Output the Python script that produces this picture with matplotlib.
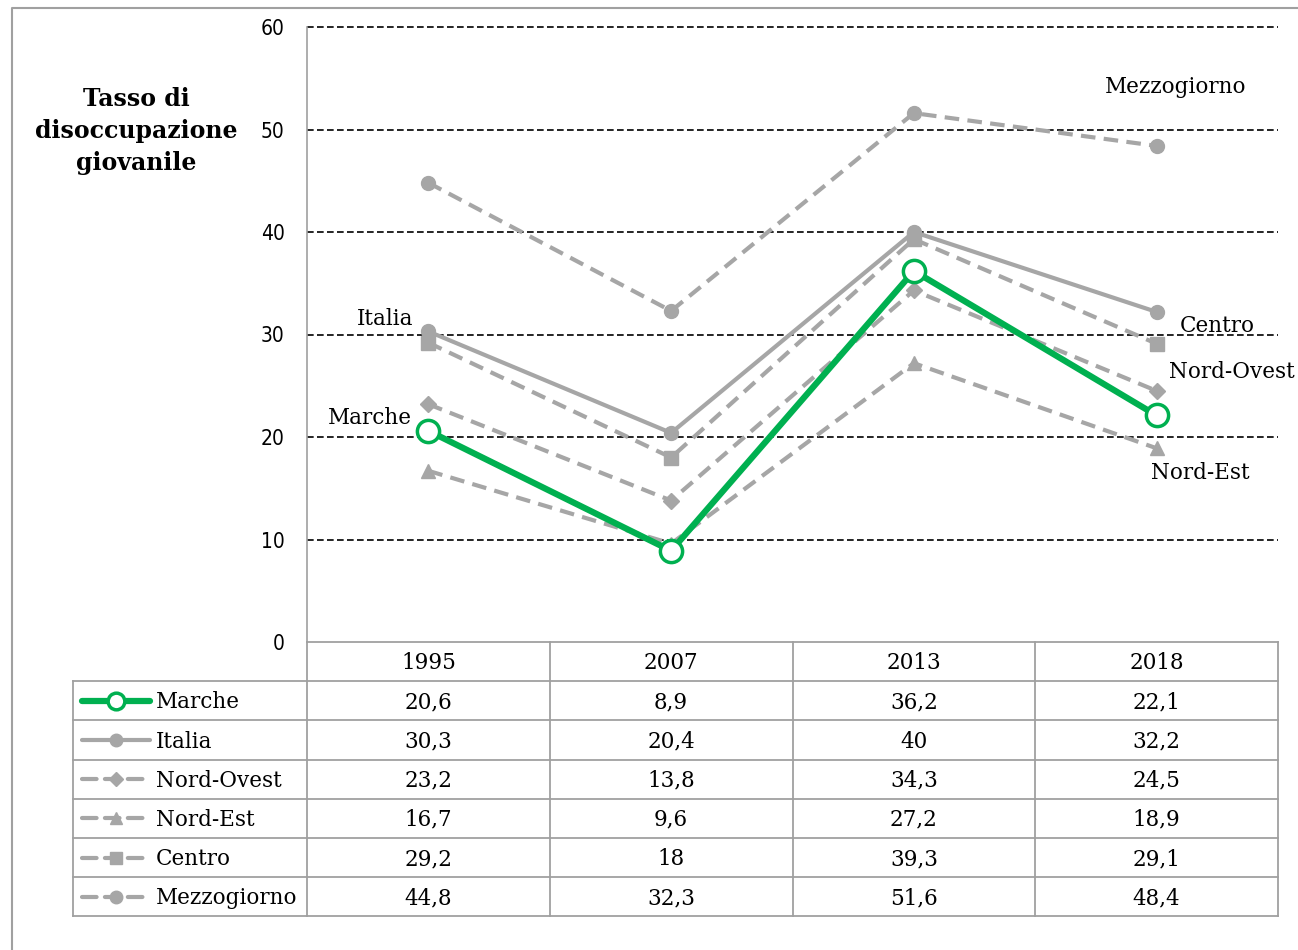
import matplotlib
matplotlib.use("Agg")
import matplotlib.pyplot as plt
from matplotlib.lines import Line2D

years = ["1995", "2007", "2013", "2018"]
series_names = ["Marche", "Italia", "Nord-Ovest", "Nord-Est", "Centro", "Mezzogiorno"]
marche = [20.6, 8.9, 36.2, 22.1]
italia = [30.3, 20.4, 40, 32.2]
nord_ovest = [23.2, 13.8, 34.3, 24.5]
nord_est = [16.7, 9.6, 27.2, 18.9]
centro = [29.2, 18, 39.3, 29.1]
mezzogiorno = [44.8, 32.3, 51.6, 48.4]
yticks = [0, 10, 20, 30, 40, 50, 60]

GREEN = "#00B050"
GRAY = "#A6A6A6"
FONT = "DejaVu Serif"
plt.rcParams["font.family"] = [FONT]
FS = 15.5

W, H = 1298, 950
fig = plt.figure(figsize=(W / 100, H / 100), dpi=100)

def fx(px):
    return px / W

def fy(py):
    return 1 - py / H

# outer frame (top and left edges)
fig.add_artist(Line2D([fx(12), fx(12), fx(1300)], [fy(952), fy(8), fy(8)],
                      transform=fig.transFigure, color="#A0A0A0", lw=1.5))

L, R, T, B = 307, 1278, 27, 642
ax = fig.add_axes([fx(L), fy(B), fx(R) - fx(L), fy(T) - fy(B)])
ax.set_xlim(-0.5, 3.5)
ax.set_ylim(0, 60)
for s in ["top", "right", "bottom"]:
    ax.spines[s].set_visible(False)
ax.spines["left"].set_color("#A0A0A0")
ax.spines["left"].set_linewidth(1.2)
ax.set_xticks([])
ax.set_yticks(yticks)
ax.set_yticklabels([str(v) for v in yticks], fontsize=15, family="DejaVu Sans", fontstretch="condensed")
ax.tick_params(axis="y", length=0, pad=16)
for v in yticks[1:]:
    ax.axhline(v, color="black", lw=1.2, ls=(0, (4, 2)), zorder=1, clip_on=False)

x = list(range(4))
dash = (0, (3.5, 2))
styles = {
    "Marche": dict(color=GREEN, lw=4.5, ls="-", marker="o", ms=16, mfc="white", mec=GREEN, mew=2.5),
    "Italia": dict(color=GRAY, lw=3, ls="-", marker="o", ms=10, mfc=GRAY, mec=GRAY),
    "Nord-Ovest": dict(color=GRAY, lw=3, ls=dash, marker="D", ms=8, mfc=GRAY, mec=GRAY),
    "Nord-Est": dict(color=GRAY, lw=3, ls=dash, marker="^", ms=10, mfc=GRAY, mec=GRAY),
    "Centro": dict(color=GRAY, lw=3, ls=dash, marker="s", ms=10, mfc=GRAY, mec=GRAY),
    "Mezzogiorno": dict(color=GRAY, lw=3, ls=dash, marker="o", ms=10, mfc=GRAY, mec=GRAY),
}
data = {"Marche": marche, "Italia": italia, "Nord-Ovest": nord_ovest,
        "Nord-Est": nord_est, "Centro": centro, "Mezzogiorno": mezzogiorno}
order = ["Mezzogiorno", "Centro", "Nord-Est", "Nord-Ovest", "Italia", "Marche"]
for i, name in enumerate(order):
    ax.plot(x, data[name], zorder=3 + i, **styles[name])

# annotations
ax.text(3.08, 54.4, "Mezzogiorno", fontsize=FS, ha="center", va="center_baseline")
ax.text(-0.18, 31.8, "Italia", fontsize=FS, ha="center", va="center_baseline")
ax.text(-0.24, 22.1, "Marche", fontsize=FS, ha="center", va="center_baseline")
ax.text(3.25, 31.1, "Centro", fontsize=FS, ha="center", va="center_baseline")
ax.text(3.31, 26.6, "Nord-Ovest", fontsize=FS, ha="center", va="center_baseline")
ax.text(3.18, 16.7, "Nord-Est", fontsize=FS, ha="center", va="center_baseline")

# y label
fig.text(fx(136), fy(131), "Tasso di\ndisoccupazione\ngiovanile", fontsize=17, fontweight="bold",
         ha="center", va="center", linespacing=1.42)

# table
TL = 73
row_h = 39.2
tax = fig.add_axes([0, 0, 1, 1])
tax.set_xlim(0, W)
tax.set_ylim(H, 0)
tax.axis("off")
col_w = (R - L) / 4
tcol = "#A0A0A0"
n = len(series_names)
ytop = B
ybot = B + row_h * (n + 1)
tax.plot([L, R], [ytop, ytop], color=tcol, lw=1.3)
for r in range(1, n + 2):
    yy = ytop + row_h * r
    tax.plot([TL, R], [yy, yy], color=tcol, lw=1.3)
tax.plot([TL, TL], [ytop + row_h, ybot], color=tcol, lw=1.3)
for c in range(5):
    xx = L + col_w * c
    tax.plot([xx, xx], [ytop, ybot], color=tcol, lw=1.3)
for c, yr in enumerate(years):
    tax.text(L + col_w * (c + 0.5), ytop + row_h * 0.5 - 1, yr, fontsize=FS, ha="center", va="center_baseline")
for r, name in enumerate(series_names):
    yc = ytop + row_h * (r + 1.5)
    st = styles[name]
    tax.add_line(Line2D([82, 150], [yc, yc], color=st["color"], lw=st["lw"],
                        ls=st["ls"], solid_capstyle="round", dash_capstyle="round"))
    tax.plot([116], [yc], marker=st["marker"], ms=st["ms"] * (0.75 if name == "Marche" else 0.9),
             mfc=st["mfc"], mec=st["mec"], mew=st.get("mew", 1), ls="none")
    tax.text(156, yc - 1, name, fontsize=FS, ha="left", va="center_baseline")
    for c, v in enumerate(data[name]):
        s = ("%g" % v).replace(".", ",")
        tax.text(L + col_w * (c + 0.5), yc - 1, s, fontsize=FS, ha="center", va="center_baseline")

fig.savefig("out.png", dpi=100)
